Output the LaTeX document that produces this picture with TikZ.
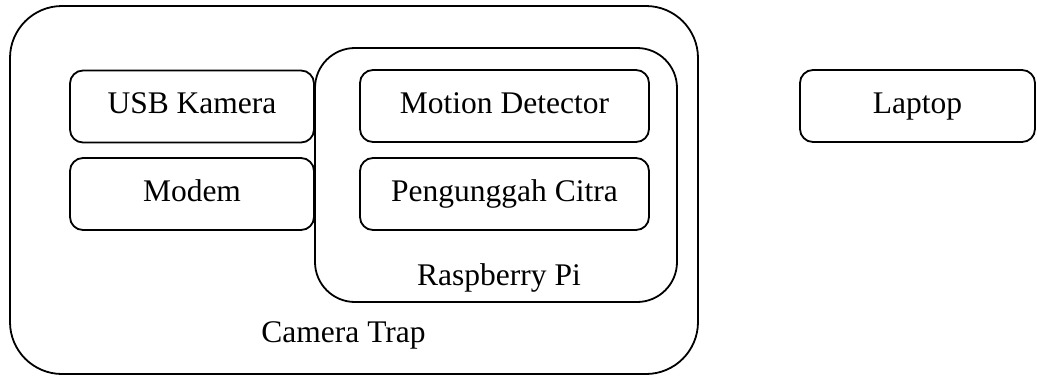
\documentclass[tikz,border=0pt]{standalone}
\usepackage{fontspec}
\setmainfont{Liberation Serif}
\begin{document}
\begin{tikzpicture}[x=1pt,y=-1pt,
  frame/.style={draw, line width=1.8pt, inner sep=0pt, outer sep=0pt},
  module/.style={frame, rounded corners=13pt, minimum height=72pt,
    text height=21pt, text depth=7pt,
    font=\fontsize{31.5}{36}\selectfont},
  caption/.style={anchor=base, inner sep=0pt, font=\fontsize{31.5}{36}\selectfont}]
\useasboundingbox (0,0) rectangle (1037,376);
% containers
\node[frame, rounded corners=52pt, minimum width=688pt, minimum height=368pt] (trap) at (354,190) {};
\node[frame, rounded corners=40pt, minimum width=362pt, minimum height=254pt] (rpi) at (496,175) {};
% modules
\node[module, minimum width=244pt] (usb) at (192,106.5) {USB Kamera};
\node[module, minimum width=244pt] (modem) at (192,194) {Modem};
\node[module, minimum width=289pt] (motion) at (504.5,106) {Motion Detector};
\node[module, minimum width=289pt] (upload) at (504.5,194) {Pengunggah Citra};
\node[module, minimum width=235pt] (laptop) at (917.5,106) {Laptop};
% labels
\node[caption] (rpilabel) at (499,285) {Raspberry Pi};
\node[caption] (traplabel) at (343.5,342) {Camera Trap};
\end{tikzpicture}
\end{document}
